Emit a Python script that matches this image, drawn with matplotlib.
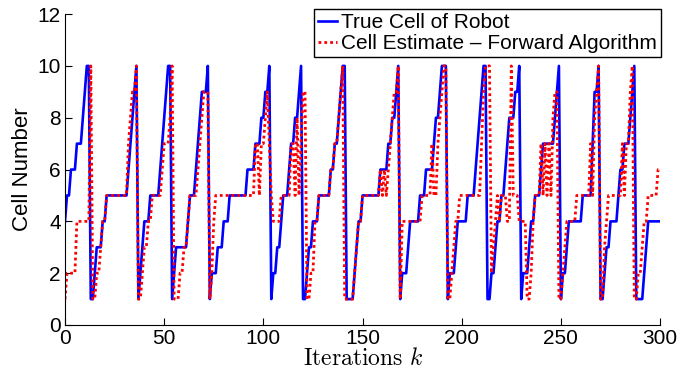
import numpy as np
import matplotlib
matplotlib.use("Agg")
import matplotlib.pyplot as plt

plt.rcParams['font.family'] = ['Liberation Sans', 'DejaVu Sans']
plt.rcParams['mathtext.fontset'] = 'cm'

# True cell of the robot, iterations 0..300
true_cell = [
    4, 5, 5, 6, 6, 6, 7, 7, 7, 8,
    9, 10, 10, 1, 1, 2, 3, 3, 3, 4,
    4, 5, 5, 5, 5, 5, 5, 5, 5, 5,
    5, 5, 6, 7, 8, 9, 10, 1, 2, 3,
    4, 4, 4, 5, 5, 5, 5, 5, 6, 7,
    8, 9, 10, 10, 1, 2, 3, 3, 3, 3,
    3, 3, 4, 5, 5, 5, 6, 7, 8, 9,
    9, 9, 10, 1, 2, 2, 2, 3, 3, 3,
    4, 4, 4, 5, 5, 5, 5, 5, 5, 5,
    5, 5, 6, 6, 6, 6, 7, 7, 7, 8,
    8, 9, 9, 10, 1, 2, 2, 3, 3, 4,
    5, 5, 5, 6, 7, 7, 8, 8, 9, 10,
    1, 1, 2, 3, 3, 4, 4, 4, 5, 5,
    5, 5, 5, 5, 6, 6, 7, 7, 8, 9,
    10, 10, 1, 1, 1, 1, 2, 3, 4, 4,
    5, 5, 5, 5, 5, 5, 5, 5, 5, 6,
    6, 6, 6, 7, 7, 8, 8, 9, 10, 1,
    2, 2, 2, 3, 4, 4, 4, 4, 4, 5,
    5, 5, 6, 6, 6, 6, 7, 8, 8, 9,
    10, 10, 10, 1, 2, 2, 2, 3, 4, 4,
    4, 4, 4, 5, 5, 5, 5, 6, 7, 8,
    9, 10, 10, 1, 1, 2, 2, 3, 4, 4,
    5, 5, 6, 7, 8, 8, 8, 9, 9, 10,
    1, 2, 2, 2, 3, 4, 4, 5, 5, 5,
    6, 7, 7, 7, 7, 7, 7, 8, 9, 10,
    1, 2, 2, 3, 4, 4, 4, 4, 4, 4,
    4, 5, 5, 5, 5, 5, 7, 9, 9, 10,
    1, 1, 2, 3, 3, 4, 4, 4, 4, 5,
    6, 6, 7, 7, 7, 8, 9, 10, 1, 1,
    1, 1, 2, 3, 4, 4, 4, 4, 4, 4,
    4,
]

# Cell estimate from the forward algorithm, iterations 0..300
estimate = [
    1, 2, 2, 2, 2, 2, 4, 4, 4, 4,
    4, 4, 4, 10, 1, 1, 2, 2, 3, 4,
    4, 5, 5, 5, 5, 5, 5, 5, 5, 5,
    5, 5, 7, 8, 9, 9, 10, 1, 1, 2,
    3, 3, 4, 4, 5, 5, 5, 5, 5, 6,
    7, 7, 7, 8, 10, 1, 1, 1, 2, 2,
    3, 3, 4, 5, 5, 5, 5, 6, 7, 8,
    9, 9, 9, 1, 2, 4, 5, 5, 5, 5,
    5, 5, 5, 5, 5, 5, 5, 5, 5, 5,
    5, 5, 5, 5, 5, 5, 7, 7, 5, 7,
    7, 8, 9, 7, 5, 4, 4, 4, 4, 5,
    5, 5, 5, 5, 7, 7, 5, 8, 5, 7,
    9, 9, 1, 1, 2, 2, 4, 4, 5, 5,
    5, 5, 5, 5, 6, 6, 7, 7, 8, 9,
    10, 1, 1, 1, 1, 1, 2, 3, 4, 4,
    5, 5, 5, 5, 5, 5, 5, 5, 5, 6,
    5, 6, 5, 6, 7, 8, 9, 9, 10, 1,
    4, 4, 4, 4, 4, 4, 4, 4, 4, 4,
    5, 5, 5, 5, 5, 7, 5, 5, 7, 8,
    9, 10, 10, 1, 1, 2, 3, 4, 4, 5,
    5, 5, 5, 5, 5, 5, 5, 5, 5, 5,
    7, 9, 10, 10, 10, 2, 3, 4, 5, 4,
    5, 5, 5, 4, 4, 10, 5, 5, 5, 4,
    4, 4, 4, 1, 1, 2, 4, 5, 5, 5,
    7, 5, 7, 5, 7, 5, 8, 9, 9, 1,
    1, 2, 3, 4, 4, 4, 4, 4, 5, 5,
    5, 5, 5, 5, 5, 7, 5, 8, 9, 10,
    1, 1, 3, 4, 5, 5, 5, 5, 5, 5,
    5, 7, 5, 7, 7, 9, 10, 1, 1, 2,
    2, 3, 4, 4, 5, 5, 5, 5, 5, 6,
    6,
]

x_ticks = [0, 50, 100, 150, 200, 250, 300]
y_ticks = [0, 2, 4, 6, 8, 10, 12]

k = np.arange(len(true_cell))

fig = plt.figure(figsize=(6.96, 3.71), dpi=100)
ax = fig.add_axes([0.0934, 0.124, 0.855, 0.838])

ax.plot(k, true_cell, color=(0, 0, 1), lw=1.9, label='True Cell of Robot')
ax.plot(k, estimate, color=(1, 0, 0), lw=2.0, linestyle=(0, (1, 1.1)),
        label='Cell Estimate \u2013 Forward Algorithm')

ax.set_xlim(0, 300)
ax.set_ylim(0, 12)
ax.set_xticks(x_ticks)
ax.set_yticks(y_ticks)
ax.tick_params(direction='in', length=5, width=0.8, labelsize=15, pad=3)
for s in ['top', 'right']:
    ax.spines[s].set_visible(False)
for s in ['left', 'bottom']:
    ax.spines[s].set_linewidth(0.8)

ax.set_ylabel('Cell Number', fontsize=16, labelpad=3)
ax.set_xlabel(r'$\mathrm{Iterations}\ k$', fontsize=17, labelpad=0)

leg = ax.legend(loc='upper right', bbox_to_anchor=(0.95, 0.976),
                bbox_transform=fig.transFigure, fontsize=15,
                frameon=True, fancybox=False, framealpha=1,
                edgecolor='black', borderaxespad=0, borderpad=0.2,
                handlelength=0.9, handletextpad=0.2, labelspacing=0.1)
leg.get_frame().set_linewidth(1.0)

fig.savefig('out.png', dpi=100)
